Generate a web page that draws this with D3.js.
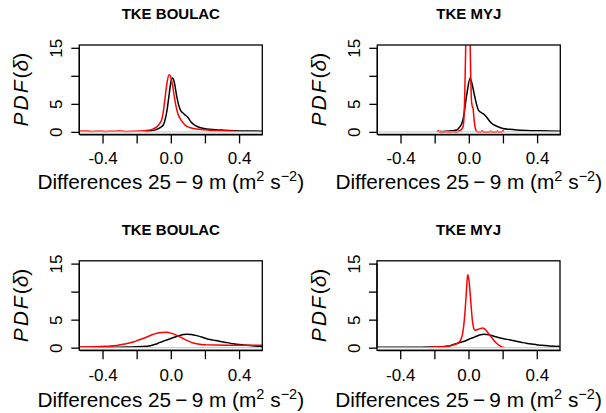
<!DOCTYPE html>
<html>
<head>
<meta charset="utf-8">
<script src="https://cdn.jsdelivr.net/npm/d3@7"></script>
<style>
  html, body { margin: 0; padding: 0; background: #fff; }
  svg { display: block; font-family: "Liberation Sans", Arial, Helvetica, sans-serif; }
</style>
</head>
<body>
<svg id="chart" width="606" height="413"></svg>
<script>
// Axis ticks and labels (labels that would overlap are left blank)
const xTicks = [-0.4, -0.2, 0.0, 0.2, 0.4];
const xTickLabels = ["-0.4", "", "0.0", "", "0.4"];
const yTicks = [0, 5, 10, 15];
const yTickLabels = ["0", "5", "", "15"];
const panelTitles = ["TKE BOULAC", "TKE MYJ", "TKE BOULAC", "TKE MYJ"];

// Density estimates of the 25 m - 9 m differences: [delta, PDF]
const boulacTopBlack = [
  [-0.15, 0.08], [-0.12, 0.15], [-0.09, 0.35], [-0.06, 0.8], [-0.043, 1.3], [-0.03, 2.6],
  [-0.02, 4.3], [-0.01, 6.6], [0.0, 8.8], [0.01, 9.6], [0.02, 8.9], [0.035, 6.3],
  [0.048, 4.6], [0.058, 3.8], [0.07, 3.4], [0.085, 3.0], [0.1, 2.6], [0.12, 1.7],
  [0.14, 1.2], [0.155, 0.95], [0.175, 0.75], [0.21, 0.5], [0.26, 0.38], [0.31, 0.3],
  [0.37, 0.22], [0.45, 0.16], [0.54, 0.12]
];
const boulacTopRed = [
  [-0.54, 0.1], [-0.5, 0.14], [-0.46, 0.08], [-0.42, 0.12], [-0.38, 0.07], [-0.34, 0.11],
  [-0.3, 0.15], [-0.26, 0.08], [-0.22, 0.1], [-0.18, 0.14], [-0.14, 0.25], [-0.11, 0.45],
  [-0.082, 0.9], [-0.065, 1.5], [-0.053, 2.2], [-0.043, 3.8], [-0.033, 6.2], [-0.022, 8.8],
  [-0.01, 10.2], [0.0, 9.7], [0.012, 8.0], [0.022, 6.0], [0.031, 4.5], [0.042, 3.2],
  [0.054, 2.4], [0.07, 1.7], [0.084, 1.2], [0.105, 0.85], [0.133, 0.6], [0.18, 0.42],
  [0.23, 0.3], [0.3, 0.2], [0.38, 0.1]
];
const myjTopBlack = [
  [-0.17, 0.08], [-0.13, 0.12], [-0.1, 0.2], [-0.07, 0.35], [-0.055, 0.8], [-0.041, 1.5],
  [-0.03, 2.8], [-0.022, 4.5], [-0.008, 7.4], [0.008, 9.6], [0.023, 8.0], [0.037, 6.0],
  [0.056, 3.9], [0.07, 3.5], [0.086, 3.2], [0.105, 2.6], [0.12, 2.0], [0.135, 1.5],
  [0.164, 1.0], [0.2, 0.6], [0.24, 0.45], [0.28, 0.35], [0.34, 0.26], [0.42, 0.2],
  [0.54, 0.13]
];
const myjTopRed = [
  [-0.185, 0.0], [-0.178, 0.18], [-0.171, 0.0], [-0.14, 0.0], [-0.134, 0.15], [-0.128, 0.0],
  [-0.1, 0.0], [-0.094, 0.12], [-0.088, 0.0], [-0.066, 0.0], [-0.06, 0.15], [-0.05, 0.25],
  [-0.04, 0.55], [-0.033, 1.0], [-0.028, 2.8], [-0.023, 7.5], [-0.018, 15.5], [-0.012, 23],
  [-0.005, 27], [0.002, 24], [0.008, 15.5], [0.012, 9.0], [0.016, 5.5], [0.02, 4.6],
  [0.025, 4.2], [0.03, 2.6], [0.036, 1.0], [0.042, 0.3], [0.05, 0.0], [0.072, 0.0],
  [0.078, 0.18], [0.084, 0.0], [0.122, 0.0], [0.128, 0.15], [0.134, 0.0], [0.162, 0.0],
  [0.168, 0.15], [0.174, 0.0], [0.194, 0.0], [0.2, 0.18], [0.206, 0.0]
];
const boulacBottomBlack = [
  [-0.54, 0.06], [-0.4, 0.08], [-0.25, 0.13], [-0.17, 0.2], [-0.12, 0.35], [-0.09, 0.6],
  [-0.063, 0.95], [-0.03, 1.3], [0.0, 1.65], [0.03, 1.95], [0.055, 2.2], [0.075, 2.35],
  [0.094, 2.4], [0.12, 2.35], [0.152, 2.15], [0.18, 1.9], [0.21, 1.6], [0.25, 1.35],
  [0.29, 1.1], [0.33, 0.9], [0.366, 0.7], [0.4, 0.55], [0.44, 0.42], [0.49, 0.3],
  [0.54, 0.22]
];
const boulacBottomRed = [
  [-0.54, 0.12], [-0.45, 0.16], [-0.38, 0.25], [-0.316, 0.4], [-0.27, 0.65], [-0.22, 1.0],
  [-0.18, 1.45], [-0.14, 1.9], [-0.11, 2.3], [-0.082, 2.58], [-0.05, 2.73], [-0.023, 2.75],
  [0.005, 2.55], [0.035, 2.2], [0.065, 1.75], [0.094, 1.3], [0.12, 0.95], [0.152, 0.7],
  [0.18, 0.55], [0.21, 0.5], [0.26, 0.46], [0.33, 0.44], [0.42, 0.44], [0.54, 0.43]
];
const myjBottomBlack = [
  [-0.54, 0.08], [-0.35, 0.09], [-0.22, 0.1], [-0.15, 0.14], [-0.11, 0.35], [-0.074, 0.7],
  [-0.045, 0.98], [-0.016, 1.25], [0.015, 1.65], [0.043, 2.0], [0.07, 2.3], [0.092, 2.4],
  [0.12, 2.3], [0.16, 1.95], [0.2, 1.65], [0.24, 1.4], [0.28, 1.15], [0.317, 0.9],
  [0.355, 0.72], [0.395, 0.55], [0.43, 0.42], [0.47, 0.32], [0.505, 0.25], [0.54, 0.2]
];
const myjBottomRed = [
  [-0.23, 0.05], [-0.19, 0.12], [-0.15, 0.2], [-0.12, 0.3], [-0.094, 0.45], [-0.07, 0.7],
  [-0.055, 1.0], [-0.043, 1.6], [-0.035, 2.4], [-0.027, 4.2], [-0.02, 6.6], [-0.012, 10.2],
  [-0.005, 13.0], [0.002, 12.2], [0.01, 9.6], [0.017, 6.8], [0.023, 4.8], [0.03, 3.5],
  [0.038, 3.1], [0.053, 3.25], [0.068, 3.4], [0.082, 3.5], [0.096, 3.3], [0.108, 2.9],
  [0.121, 2.4], [0.136, 1.8], [0.151, 1.2], [0.166, 0.75], [0.18, 0.4], [0.195, 0.15],
  [0.21, 0.03]
];

const panelSeries = [
  [boulacTopBlack, boulacTopRed],
  [myjTopBlack, myjTopRed],
  [boulacBottomBlack, boulacBottomRed],
  [myjBottomBlack, myjBottomRed]
];
const seriesColors = ["#000000", "#ff0000"];

// Plot regions of the 2 x 2 grid
const plotW = 183, plotH = 89.4;
const origins = [
  { left: 79.3, top: 45.0, row: 0 },
  { left: 377.3, top: 45.0, row: 0 },
  { left: 79.3, top: 260.8, row: 1 },
  { left: 377.0, top: 260.8, row: 1 }
];
const xDomain = [-0.536, 0.536];
const yDomain = [-0.45, 15.5];

const svg = d3.select("#chart");
svg.append("rect").attr("width", 606).attr("height", 413).attr("fill", "#fff");

origins.forEach((o, i) => {
  const x = d3.scaleLinear().domain(xDomain).range([o.left, o.left + plotW]);
  const y = d3.scaleLinear().domain(yDomain).range([o.top + plotH, o.top]);
  const g = svg.append("g");

  const clipId = "clip" + i;
  svg.append("clipPath").attr("id", clipId)
    .append("rect")
    .attr("x", o.left).attr("y", o.top)
    .attr("width", plotW).attr("height", plotH);

  // density curves
  const line = d3.line()
    .x(d => x(d[0]))
    .y(d => y(d[1]))
    .curve(d3.curveMonotoneX);
  const curves = g.append("g").attr("clip-path", `url(#${clipId})`);
  panelSeries[i].forEach((s, k) => {
    curves.append("path")
      .datum(s)
      .attr("d", line)
      .attr("fill", "none")
      .attr("stroke", seriesColors[k])
      .attr("stroke-width", 1.5)
      .attr("stroke-linejoin", "round");
  });

  // zero reference line
  g.append("line")
    .attr("x1", o.left).attr("x2", o.left + plotW)
    .attr("y1", y(0)).attr("y2", y(0))
    .attr("stroke", "#c4c4c4").attr("stroke-width", 1);

  // frame
  g.append("rect")
    .attr("x", o.left).attr("y", o.top)
    .attr("width", plotW).attr("height", plotH)
    .attr("fill", "none").attr("stroke", "#000").attr("stroke-width", 1.3);

  // x axis
  const xAxis = d3.axisBottom(x)
    .tickValues(xTicks)
    .tickSize(9)
    .tickSizeOuter(0)
    .tickFormat((d, j) => xTickLabels[j]);
  const gx = g.append("g")
    .attr("transform", `translate(0,${o.top + plotH})`)
    .call(xAxis);
  gx.select(".domain").attr("stroke-width", 1.3);
  gx.selectAll(".tick line").attr("stroke-width", 1.3);
  gx.selectAll(".tick text")
    .attr("font-size", 17).attr("font-family", null)
    .attr("fill", "#000")
    .attr("dy", null).attr("y", 29.5 + o.row * 1.5);

  // y axis with labels parallel to the axis
  const yAxis = d3.axisLeft(y)
    .tickValues(yTicks)
    .tickSize(8)
    .tickSizeOuter(0)
    .tickFormat((d, j) => yTickLabels[j]);
  const gy = g.append("g")
    .attr("transform", `translate(${o.left},0)`)
    .call(yAxis);
  gy.select(".domain").remove();
  gy.append("line")
    .attr("x1", 0).attr("x2", 0)
    .attr("y1", y(0)).attr("y2", y(15))
    .attr("stroke", "#000").attr("stroke-width", 1.3);
  gy.selectAll(".tick line").attr("stroke-width", 1.3);
  gy.selectAll(".tick text")
    .attr("font-size", 17).attr("font-family", null)
    .attr("fill", "#000")
    .attr("x", null).attr("dy", null)
    .attr("text-anchor", "middle")
    .attr("transform", "translate(-17,0) rotate(-90)");

  const cx = o.left + plotW / 2;
  const cy = o.top + plotH / 2;

  // panel title
  g.append("text")
    .attr("x", cx).attr("y", o.top - 26)
    .attr("text-anchor", "middle")
    .attr("font-size", 15).attr("font-weight", "bold")
    .text(panelTitles[i]);

  // x axis title
  const xl = g.append("text")
    .attr("x", cx).attr("y", o.top + plotH + 54.5 + o.row * 2)
    .attr("text-anchor", "middle")
    .attr("font-size", 20.8);
  xl.append("tspan").text("Differences 25\u2009\u2212\u20099 m (m");
  xl.append("tspan").attr("dy", -8).attr("font-size", 14.5).text("2");
  xl.append("tspan").attr("dy", 8).text(" s");
  xl.append("tspan").attr("dy", -8).attr("font-size", 14.5).text("\u22122");
  xl.append("tspan").attr("dy", 8).text(")");

  // y axis title
  const yl = g.append("text")
    .attr("transform", `translate(${o.left - 51},${cy}) rotate(-90)`)
    .attr("text-anchor", "middle")
    .attr("font-size", 21);
  yl.append("tspan").attr("font-style", "italic").attr("letter-spacing", 2).text("PDF");
  yl.append("tspan").text("(");
  yl.append("tspan").attr("font-style", "italic").text("\u03b4");
  yl.append("tspan").text(")");
});
</script>
</body>
</html>
